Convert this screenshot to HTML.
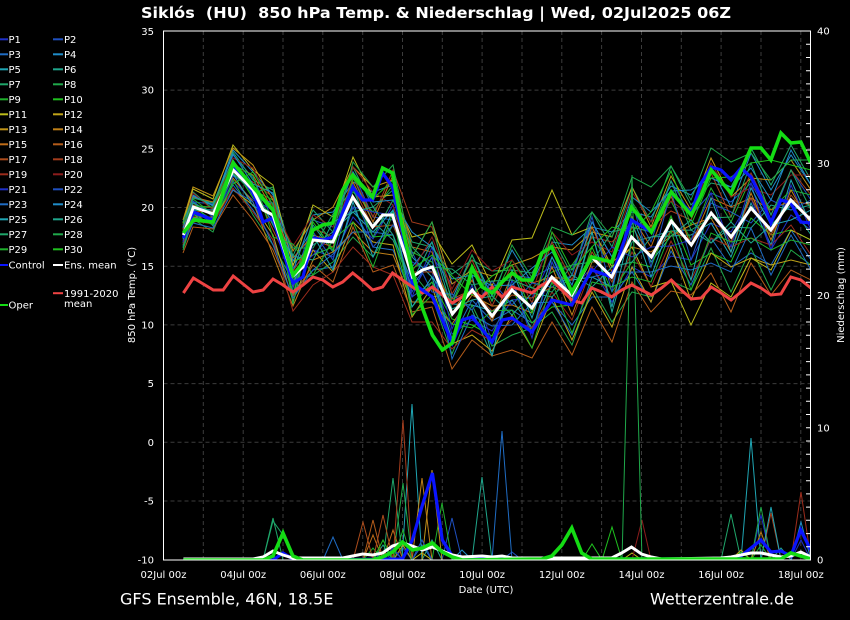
<!DOCTYPE html>
<html>
<head>
<meta charset="utf-8">
<style>
html,body{margin:0;padding:0;background:#000;}
body{width:850px;height:620px;overflow:hidden;}
svg{display:block;font-family:"DejaVu Sans","Liberation Sans",sans-serif;}
text{fill:#fff;}
</style>
</head>
<body>
<svg width="850" height="620" viewBox="0 0 850 620" xmlns="http://www.w3.org/2000/svg">
<rect x="0" y="0" width="850" height="620" fill="#000"/>
<defs>
<clipPath id="pc"><rect x="163.5" y="31" width="647" height="529"/></clipPath>
</defs>

<text x="141" y="18" font-size="15" font-weight="bold" textLength="590" lengthAdjust="spacingAndGlyphs" style="white-space:pre">Siklós  (HU)  850 hPa Temp. &amp; Niederschlag | Wed, 02Jul2025 06Z</text>

<g stroke="#3c3c3c" stroke-width="1" stroke-dasharray="4,3" fill="none">
<line x1="163.5" y1="90.1" x2="810.5" y2="90.1"/>
<line x1="163.5" y1="148.8" x2="810.5" y2="148.8"/>
<line x1="163.5" y1="207.5" x2="810.5" y2="207.5"/>
<line x1="163.5" y1="266.2" x2="810.5" y2="266.2"/>
<line x1="163.5" y1="324.9" x2="810.5" y2="324.9"/>
<line x1="163.5" y1="383.6" x2="810.5" y2="383.6"/>
<line x1="163.5" y1="442.3" x2="810.5" y2="442.3"/>
<line x1="163.5" y1="501" x2="810.5" y2="501"/>
<line x1="203.3" y1="31" x2="203.3" y2="560"/>
<line x1="243.2" y1="31" x2="243.2" y2="560"/>
<line x1="283.0" y1="31" x2="283.0" y2="560"/>
<line x1="322.8" y1="31" x2="322.8" y2="560"/>
<line x1="362.7" y1="31" x2="362.7" y2="560"/>
<line x1="402.5" y1="31" x2="402.5" y2="560"/>
<line x1="442.3" y1="31" x2="442.3" y2="560"/>
<line x1="482.1" y1="31" x2="482.1" y2="560"/>
<line x1="522.0" y1="31" x2="522.0" y2="560"/>
<line x1="561.8" y1="31" x2="561.8" y2="560"/>
<line x1="601.6" y1="31" x2="601.6" y2="560"/>
<line x1="641.5" y1="31" x2="641.5" y2="560"/>
<line x1="681.3" y1="31" x2="681.3" y2="560"/>
<line x1="721.1" y1="31" x2="721.1" y2="560"/>
<line x1="761.0" y1="31" x2="761.0" y2="560"/>
<line x1="800.8" y1="31" x2="800.8" y2="560"/>
</g>

<g clip-path="url(#pc)" fill="none" stroke-width="1" stroke-linejoin="miter">
<!-- members temperature -->
<polyline stroke="#1f30c8" points="183,240 193,215 213,218 233,182 253,200 273,210 293,268 313,250 333,257 353,217 373,239 393,205 412,262 432,272 452,334 472,320 492,331 512,300 532,298 552,257 572,290 592,267 612,302 632,267 651,277 671,256 691,260 711,223 731,232 751,198 771,250 791,215 811,230"/>
<polyline stroke="#1f50c0" points="183,227 193,202 213,204 233,155 253,178 273,220 293,286 313,220 333,227 353,172 373,217 393,220 412,292 432,257 452,284 472,270 492,291 512,275 532,278 552,267 572,270 592,222 612,257 632,207 651,242 671,181 691,215 711,193 731,202 751,183 771,220 791,170 811,200"/>
<polyline stroke="#1f6cc4" points="183,247 193,217 213,222 233,185 253,210 273,240 293,291 313,270 333,267 353,207 373,247 393,250 412,297 432,282 452,339 472,300 492,321 512,310 532,323 552,302 572,325 592,297 612,297 632,272 651,302 671,251 691,285 711,238 731,267 751,253 771,265 791,230 811,260"/>
<polyline stroke="#1f8cc8" points="183,232 193,195 213,206 233,150 253,172 273,195 293,271 313,215 333,212 353,182 373,192 393,185 412,267 432,242 452,299 472,255 492,296 512,250 532,283 552,242 572,245 592,227 612,232 632,212 651,217 671,186 691,195 711,168 731,207 751,153 771,190 791,155 811,185"/>
<polyline stroke="#1fa6b4" points="183,235 193,210 213,212 233,175 253,185 273,225 293,264 313,245 333,232 353,212 373,232 393,210 412,257 432,277 452,304 472,305 492,311 512,300 532,328 552,282 572,280 592,277 612,287 632,217 651,262 671,236 691,235 711,223 731,257 751,203 771,245 791,180 811,225"/>
<polyline stroke="#1fa68c" points="183,243 193,201 213,226 233,162 253,195 273,205 293,296 313,225 333,252 353,177 373,222 393,240 412,287 432,297 452,294 472,310 492,356 512,280 532,333 552,262 572,305 592,232 612,312 632,242 651,237 671,231 691,230 711,243 731,227 751,228 771,205 791,210 811,205"/>
<polyline stroke="#1fa66a" points="183,225 193,192 213,209 233,152 253,180 273,190 293,256 313,210 333,232 353,167 373,207 393,190 412,242 432,247 452,274 472,260 492,271 512,270 532,273 552,237 572,275 592,212 612,247 632,187 651,222 671,166 691,205 711,183 731,187 751,148 771,185 791,145 811,180"/>
<polyline stroke="#1fa84a" points="183,250 193,219 213,232 233,180 253,215 273,245 293,281 313,275 333,262 353,237 373,257 393,225 412,272 432,297 452,354 472,305 492,346 512,335 532,328 552,312 572,345 592,287 612,322 632,292 651,297 671,281 691,290 711,248 731,292 751,248 771,290 791,250 811,265"/>
<polyline stroke="#1fb02c" points="183,230 193,199 213,214 233,160 253,190 273,200 293,281 313,230 333,222 353,192 373,212 393,185 412,252 432,262 452,304 472,265 492,301 512,260 532,288 552,272 572,265 592,237 612,267 632,202 651,232 671,201 691,240 711,188 731,222 751,178 771,210 791,190 811,195"/>
<polyline stroke="#1fc01f" points="183,238 193,207 213,220 233,167 253,198 273,215 293,261 313,255 333,247 353,197 373,237 393,235 412,307 432,282 452,319 472,325 492,336 512,290 532,323 552,307 572,305 592,247 612,292 632,262 651,267 671,216 691,265 711,253 731,262 751,218 771,235 791,230 811,240"/>
<polyline stroke="#bcbc1a" points="183,223 193,189 213,199 233,145 253,170 273,185 293,266 313,205 333,217 353,157 373,197 393,195 412,237 432,232 452,264 472,245 492,286 512,240 532,238 552,190 572,235 592,227 612,267 632,247 651,287 671,281 691,325 711,283 731,297 751,258 771,270 791,230 811,240"/>
<polyline stroke="#c0a418" points="183,245 193,222 213,219 233,190 253,205 273,235 293,301 313,250 333,272 353,222 373,242 393,245 412,317 432,287 452,344 472,335 492,351 512,315 532,348 552,297 572,340 592,292 612,327 632,267 651,302 671,246 691,300 711,253 731,267 751,258 771,265 791,260 811,265"/>
<polyline stroke="#c09418" points="183,220 193,187 213,196 233,148 253,165 273,200 293,251 313,220 333,207 353,167 373,187 393,180 412,257 432,222 452,284 472,270 492,276 512,265 532,258 552,247 572,250 592,232 612,237 632,187 651,227 671,176 691,210 711,158 731,197 751,178 771,180 791,160 811,190"/>
<polyline stroke="#c08018" points="183,241 193,217 213,217 233,178 253,202 273,255 293,306 313,260 333,252 353,232 373,252 393,255 412,302 432,302 452,324 472,295 492,306 512,305 532,313 552,267 572,315 592,262 612,262 632,247 651,252 671,236 691,225 711,218 731,252 751,193 771,240 791,190 811,225"/>
<polyline stroke="#c06c18" points="183,229 193,197 213,202 233,165 253,175 273,210 293,258 313,235 333,242 353,182 373,222 393,175 412,247 432,252 452,314 472,280 492,321 512,275 532,283 552,277 572,280 592,227 612,272 632,217 651,247 671,196 691,245 711,198 731,207 751,198 771,210 791,200 811,205"/>
<polyline stroke="#b45c1a" points="183,253 193,227 213,229 233,195 253,220 273,250 293,296 313,265 333,282 353,227 373,272 393,265 412,312 432,307 452,369 472,340 492,356 512,350 532,358 552,322 572,355 592,307 612,342 632,282 651,312 671,291 691,295 711,273 731,312 751,263 771,295 791,270 811,280"/>
<polyline stroke="#ac4c1c" points="183,237 193,212 213,211 233,170 253,185 273,230 293,271 313,240 333,247 353,187 373,227 393,225 412,272 432,272 452,299 472,290 492,311 512,295 532,298 552,287 572,295 592,252 612,282 632,227 651,257 671,231 691,240 711,213 731,242 751,198 771,235 791,195 811,220"/>
<polyline stroke="#a43c1c" points="183,231 193,205 213,208 233,172 253,182 273,197 293,286 313,228 333,237 353,177 373,217 393,170 412,222 432,227 452,294 472,260 492,306 512,265 532,303 552,242 572,280 592,237 612,242 632,222 651,227 671,211 691,220 711,173 731,217 751,173 771,215 791,170 811,195"/>
<polyline stroke="#9c2c1c" points="183,244 193,221 213,224 233,188 253,212 273,240 293,311 313,285 333,272 353,247 373,267 393,275 412,322 432,322 452,349 472,330 492,341 512,320 532,328 552,292 572,320 592,267 612,297 632,252 651,287 671,241 691,280 711,238 731,247 751,238 771,245 791,225 811,255"/>
<polyline stroke="#8c1c1c" points="183,226 193,193 213,210 233,158 253,168 273,207 293,246 313,215 333,227 353,167 373,192 393,205 412,272 432,237 452,289 472,250 492,271 512,260 532,293 552,232 572,255 592,242 612,252 632,192 651,222 671,201 691,215 711,163 731,197 751,188 771,195 791,175 811,175"/>
<polyline stroke="#1f30c8" points="183,242 193,211 213,223 233,176 253,188 273,223 293,274 313,255 333,234 353,207 373,212 393,215 412,297 432,247 452,329 472,285 492,341 512,280 532,338 552,262 572,300 592,272 612,247 632,257 651,247 671,246 691,240 711,193 731,247 751,183 771,250 791,185 811,230"/>
<polyline stroke="#1f50c0" points="183,233 193,201 213,217 233,164 253,196 273,203 293,288 313,232 333,260 353,185 373,247 393,225 412,252 432,292 452,294 472,310 492,281 512,305 532,283 552,287 572,275 592,217 612,292 632,202 651,267 671,191 691,260 711,203 731,212 751,223 771,200 791,210 811,200"/>
<polyline stroke="#1f6cc4" points="183,246 193,223 213,228 233,190 253,202 273,245 293,298 313,270 333,254 353,232 373,232 393,235 412,287 432,257 452,359 472,315 492,326 512,325 532,303 552,302 572,335 592,277 612,272 632,272 651,272 671,266 691,270 711,263 731,272 751,228 771,275 791,235 811,270"/>
<polyline stroke="#1f8cc8" points="183,228 193,196 213,205 233,154 253,184 273,193 293,261 313,228 333,222 353,172 373,202 393,200 412,232 432,247 452,279 472,275 492,286 512,285 532,268 552,252 572,285 592,222 612,257 632,197 651,212 671,191 691,190 711,178 731,187 751,168 771,200 791,150 811,185"/>
<polyline stroke="#1fa6b4" points="183,239 193,209 213,210 233,174 253,206 273,215 293,284 313,235 333,270 353,202 373,257 393,210 412,307 432,277 452,339 472,275 492,356 512,270 532,318 552,257 572,300 592,232 612,307 632,222 651,277 671,221 691,280 711,198 731,252 751,188 771,225 791,220 811,210"/>
<polyline stroke="#1fa68c" points="183,234 193,203 213,213 233,168 253,186 273,225 293,256 313,260 333,222 353,212 373,207 393,235 412,282 432,242 452,309 472,300 492,296 512,315 532,293 552,297 572,275 592,287 612,267 632,262 651,237 671,236 691,220 711,243 731,222 751,243 771,225 791,205 811,235"/>
<polyline stroke="#1fa66a" points="183,222 193,198 213,203 233,160 253,190 273,212 293,248 313,248 333,214 353,189 373,237 393,200 412,247 432,267 452,269 472,285 492,281 512,280 532,288 552,292 572,265 592,262 612,232 632,227 651,232 671,181 691,230 711,218 731,217 751,163 771,215 791,170 811,210"/>
<polyline stroke="#1fa84a" points="183,248 193,214 213,225 233,173 253,193 273,187 293,304 313,218 333,242 353,162 373,187 393,165 412,257 432,222 452,304 472,255 492,301 512,245 532,278 552,227 572,235 592,212 612,237 632,177 651,187 671,166 691,200 711,148 731,162 751,153 771,180 791,160 811,160"/>
<polyline stroke="#1fb02c" points="183,224 193,206 213,207 233,164 253,176 273,237 293,244 313,275 333,240 353,222 373,267 393,213 412,315 432,295 452,324 472,328 492,311 512,310 532,348 552,282 572,333 592,282 612,287 632,277 651,282 671,231 691,290 711,233 731,242 751,238 771,250 791,240 811,245"/>
<polyline stroke="#1fc01f" points="183,236 193,218 213,221 233,184 253,172 273,205 293,294 313,222 333,250 353,179 373,199 393,180 412,269 432,255 452,276 472,295 492,276 512,265 532,313 552,232 572,270 592,247 612,227 632,232 651,212 671,171 691,225 711,178 731,177 751,163 771,160 791,165 811,170"/>

<!-- members precipitation -->
<polyline stroke="#1f30c8" points="183,560 373,560 383,552 393,560 403,548 412,560 751,560 761,515 771,560 811,560"/>
<polyline stroke="#1f50c0" points="183,560 383,560 393,550 403,560 442,560 452,518 462,560 811,560"/>
<polyline stroke="#1f6cc4" points="183,560 323,560 333,537 343,560 412,560 422,545 432,560 811,560"/>
<polyline stroke="#1f8cc8" points="183,560 273,560 283,532 293,560 452,560 462,550 472,560 811,560"/>
<polyline stroke="#1fa6b4" points="183,560 402,560 412,404 422,560 741,560 751,438 761,560 811,560"/>
<polyline stroke="#1fa68c" points="183,560 373,560 383,545 393,560 422,560 432,540 442,560 771,560 781,548 791,560 811,560"/>
<polyline stroke="#1fa66a" points="183,560 263,560 273,518 283,560 383,560 393,478 403,560 721,560 731,514 741,560 811,560"/>
<polyline stroke="#1fa84a" points="183,560 393,560 403,483 412,560 751,560 761,507 771,560 811,560"/>
<polyline stroke="#1fb02c" points="183,560 363,560 373,548 383,560 432,560 442,503 452,560 811,560"/>
<polyline stroke="#1fc01f" points="183,560 582,560 592,544 602,560 612,527 622,560 811,560"/>
<polyline stroke="#bcbc1a" points="183,560 412,560 422,553 432,560 622,560 632,553 642,560 811,560"/>
<polyline stroke="#c0a418" points="183,560 393,560 403,545 412,560 731,560 741,550 751,560 811,560"/>
<polyline stroke="#c09418" points="183,560 422,560 432,470 442,560 811,560"/>
<polyline stroke="#c08018" points="183,560 412,560 422,478 432,560 751,560 761,532 771,560 811,560"/>
<polyline stroke="#c06c18" points="183,560 363,560 373,535 383,560 393,530 403,560 811,560"/>
<polyline stroke="#b45c1a" points="183,560 363,560 373,520 383,560 811,560"/>
<polyline stroke="#ac4c1c" points="183,560 353,560 363,522 373,560 383,515 393,560 811,560"/>
<polyline stroke="#a43c1c" points="183,560 393,560 403,420 412,560 761,560 771,513 781,560 811,560"/>
<polyline stroke="#9c2c1c" points="183,560 791,560 801,492 811,560"/>
<polyline stroke="#8c1c1c" points="183,560 632,560 642,520 651,560 811,560"/>
<polyline stroke="#1f30c8" points="183,560 383,560 393,548 403,560 791,560 801,540 811,560"/>
<polyline stroke="#1f50c0" points="183,560 412,560 422,540 432,560 502,560 512,552 522,560 811,560"/>
<polyline stroke="#1f6cc4" points="183,560 492,560 502,431 512,560 811,560"/>
<polyline stroke="#1f8cc8" points="183,560 791,560 801,522 811,560"/>
<polyline stroke="#1fa6b4" points="183,560 761,560 771,507 781,560 811,560"/>
<polyline stroke="#1fa68c" points="183,560 472,560 482,477 492,560 811,560"/>
<polyline stroke="#1fa66a" points="183,560 263,560 273,521 283,535 293,560 811,560"/>
<polyline stroke="#1fa84a" points="183,560 622,560 632,175 642,560 811,560"/>
<polyline stroke="#1fb02c" points="183,560 393,560 403,530 412,560 751,560 761,545 771,560 811,560"/>
<polyline stroke="#1fc01f" points="183,560 373,560 383,540 393,560 731,560 741,552 751,560 811,560"/>

<!-- climatology -->
<polyline stroke="#ee4343" stroke-width="3" points="183.4,293 193.4,278 203.3,284 213.3,290 223.2,290 233.2,276 243.1,284 253.1,292 263.1,290 273.0,279 283.0,285 292.9,292 302.9,285 312.9,277 322.8,280 332.8,287 342.7,282 352.7,273 362.6,281 372.6,290 382.6,287 392.5,273 402.5,280 412.4,287 422.4,293 432.4,287 442.3,295 452.3,303 462.2,297 472.2,292 482.1,297 492.1,287 502.1,297 512.0,287 522.0,290 531.9,293 541.9,285 551.8,280 561.8,290 571.8,300 581.7,303 591.7,288 601.6,292 611.6,297 621.6,290 631.5,285 641.5,290 651.4,295 661.4,288 671.3,280 681.3,290 691.3,299 701.2,298 711.2,287 721.1,293 731.1,300 741.0,292 751.0,283 761.0,288 770.9,295 780.9,294 790.8,277 800.8,280 810.8,288"/>
<!-- control -->
<polyline stroke="#0a14ff" stroke-width="3.2" points="183.4,238 193.4,212 213.3,220 233.2,167 253.1,192 263.1,222 273.0,218 292.9,283 302.9,277 312.9,238 322.8,240 332.8,237 352.7,187 362.6,200 372.6,200 382.6,173 392.5,187 402.5,233 412.4,283 432.4,297 452.3,343 462.2,320 472.2,317 492.1,342 502.1,320 512.0,318 531.9,332 551.8,300 571.8,305 591.7,270 611.6,277 631.5,220 651.4,232 671.3,192 691.3,213 701.2,183 711.2,167 721.1,170 731.1,180 741.0,168 751.0,177 761.0,197 770.9,223 780.9,200 790.8,203 800.8,222 810.8,223"/>
<polyline stroke="#0a14ff" stroke-width="3.2" points="183.4,560 273.0,560 283.0,553 292.9,559 302.9,560 402.5,559 412.4,540 422.4,505 432.4,473 442.3,540 452.3,556 462.2,559 731.1,559 741.0,556 751.0,548 761.0,540 770.9,552 780.9,551 790.8,556 800.8,530 810.8,550"/>
<!-- ens mean -->
<polyline stroke="#ffffff" stroke-width="3" points="183.4,235 193.4,207 213.3,214 233.2,170 253.1,190 263.1,210 273.0,215 292.9,276 302.9,267 312.9,240 332.8,242 352.7,197 372.6,227 382.6,215 392.5,215 412.4,277 422.4,270 432.4,267 452.3,314 472.2,290 492.1,316 512.0,290 531.9,308 551.8,277 571.8,295 591.7,257 611.6,277 631.5,237 651.4,257 671.3,221 691.3,245 711.2,213 731.1,237 751.0,208 770.9,230 790.8,200 810.8,220"/>
<polyline stroke="#ffffff" stroke-width="3" points="183.4,559 253.1,559 263.1,557 273.0,551 283.0,555 292.9,558 342.7,558 352.7,556 362.6,554 372.6,555 382.6,553 392.5,546 402.5,543 412.4,546 422.4,550 432.4,547 442.3,551 452.3,555 462.2,557 482.1,556 492.1,557 502.1,556 512.0,558 611.6,558 621.6,553 631.5,547 641.5,554 651.4,557 661.4,559 721.1,558 731.1,557 741.0,555 751.0,553 761.0,553 770.9,555 780.9,557 790.8,556 800.8,552 810.8,557"/>
<!-- oper -->
<polyline stroke="#14dc14" stroke-width="3.6" points="183.4,233 193.4,220 213.3,222 233.2,163 253.1,187 273.0,210 292.9,275 302.9,263 312.9,230 322.8,225 332.8,223 342.7,190 352.7,175 372.6,197 382.6,168 392.5,173 402.5,228 412.4,272 422.4,308 432.4,335 442.3,350 452.3,343 472.2,268 482.1,287 492.1,293 502.1,282 512.0,273 522.0,280 531.9,280 541.9,253 551.8,247 571.8,292 591.7,257 611.6,262 631.5,207 651.4,232 671.3,192 691.3,215 701.2,195 711.2,170 731.1,193 751.0,148 761.0,148 770.9,160 780.9,133 790.8,143 800.8,142 810.8,163"/>
<polyline stroke="#14dc14" stroke-width="3.6" points="183.4,560 263.1,560 273.0,556 283.0,533 292.9,556 302.9,560 372.6,560 382.6,557 392.5,552 402.5,542 412.4,550 422.4,548 432.4,543 442.3,552 452.3,557 462.2,560 541.9,559 551.8,556 561.8,545 571.8,528 581.7,553 591.7,559 780.9,559 790.8,553 800.8,556 810.8,559"/>
</g>

<rect x="163.5" y="31" width="647" height="529" fill="none" stroke="#fff" stroke-width="1"/>

<path stroke="#fff" stroke-width="1" fill="none" d="M806 546.8H810.5M806 533.6H810.5M806 520.3H810.5M806 507.1H810.5M806 493.9H810.5M806 480.7H810.5M806 467.4H810.5M806 454.2H810.5M806 441.0H810.5M806 427.8H810.5M806 414.5H810.5M806 401.3H810.5M806 388.1H810.5M806 374.9H810.5M806 361.6H810.5M806 348.4H810.5M806 335.2H810.5M806 322.0H810.5M806 308.7H810.5M806 295.5H810.5M806 282.3H810.5M806 269.1H810.5M806 255.8H810.5M806 242.6H810.5M806 229.4H810.5M806 216.2H810.5M806 202.9H810.5M806 189.7H810.5M806 176.5H810.5M806 163.3H810.5M806 150.0H810.5M806 136.8H810.5M806 123.6H810.5M806 110.4H810.5M806 97.1H810.5M806 83.9H810.5M806 70.7H810.5M806 57.5H810.5M806 44.2H810.5"/>

<g font-size="10" text-anchor="end">
<text x="154" y="35">35</text>
<text x="154" y="93.7">30</text>
<text x="154" y="152.4">25</text>
<text x="154" y="211.1">20</text>
<text x="154" y="269.8">15</text>
<text x="154" y="328.5">10</text>
<text x="154" y="387.2">5</text>
<text x="154" y="445.9">0</text>
<text x="154" y="504.6">-5</text>
<text x="154" y="563.3">-10</text>
</g>
<g font-size="10" text-anchor="start">
<text x="817" y="34.6">40</text>
<text x="817" y="166.9">30</text>
<text x="817" y="299.1">20</text>
<text x="817" y="431.4">10</text>
<text x="817" y="563.6">0</text>
</g>
<g font-size="10" text-anchor="middle">
<text x="163.5" y="578">02Jul 00z</text>
<text x="243.2" y="578">04Jul 00z</text>
<text x="322.8" y="578">06Jul 00z</text>
<text x="402.5" y="578">08Jul 00z</text>
<text x="482.1" y="578">10Jul 00z</text>
<text x="561.8" y="578">12Jul 00z</text>
<text x="641.5" y="578">14Jul 00z</text>
<text x="721.1" y="578">16Jul 00z</text>
<text x="800.8" y="578">18Jul 00z</text>
</g>
<text x="486" y="593" font-size="10" text-anchor="middle">Date (UTC)</text>
<text font-size="10" text-anchor="middle" transform="translate(135,295) rotate(-90)">850 hPa Temp. (°C)</text>
<text font-size="10" text-anchor="middle" transform="translate(844,295) rotate(-90)">Niederschlag (mm)</text>

<text x="120" y="604.5" font-size="16">GFS Ensemble, 46N, 18.5E</text>
<text x="650" y="604.5" font-size="16" textLength="144" lengthAdjust="spacingAndGlyphs">Wetterzentrale.de</text>

<!-- legend lines -->
<g stroke-width="2">
<line x1="0" y1="39.3" x2="8" y2="39.3" stroke="#1f30c8"/><line x1="53" y1="39.3" x2="63" y2="39.3" stroke="#1f50c0"/>
<line x1="0" y1="54.3" x2="8" y2="54.3" stroke="#1f6cc4"/><line x1="53" y1="54.3" x2="63" y2="54.3" stroke="#1f8cc8"/>
<line x1="0" y1="69.3" x2="8" y2="69.3" stroke="#1fa6b4"/><line x1="53" y1="69.3" x2="63" y2="69.3" stroke="#1fa68c"/>
<line x1="0" y1="84.3" x2="8" y2="84.3" stroke="#1fa66a"/><line x1="53" y1="84.3" x2="63" y2="84.3" stroke="#1fa84a"/>
<line x1="0" y1="99.3" x2="8" y2="99.3" stroke="#1fb02c"/><line x1="53" y1="99.3" x2="63" y2="99.3" stroke="#1fc01f"/>
<line x1="0" y1="114.3" x2="8" y2="114.3" stroke="#bcbc1a"/><line x1="53" y1="114.3" x2="63" y2="114.3" stroke="#c0a418"/>
<line x1="0" y1="129.3" x2="8" y2="129.3" stroke="#c09418"/><line x1="53" y1="129.3" x2="63" y2="129.3" stroke="#c08018"/>
<line x1="0" y1="144.3" x2="8" y2="144.3" stroke="#c06c18"/><line x1="53" y1="144.3" x2="63" y2="144.3" stroke="#b45c1a"/>
<line x1="0" y1="159.3" x2="8" y2="159.3" stroke="#ac4c1c"/><line x1="53" y1="159.3" x2="63" y2="159.3" stroke="#a43c1c"/>
<line x1="0" y1="174.3" x2="8" y2="174.3" stroke="#9c2c1c"/><line x1="53" y1="174.3" x2="63" y2="174.3" stroke="#8c1c1c"/>
<line x1="0" y1="189.3" x2="8" y2="189.3" stroke="#1f30c8"/><line x1="53" y1="189.3" x2="63" y2="189.3" stroke="#1f50c0"/>
<line x1="0" y1="204.3" x2="8" y2="204.3" stroke="#1f6cc4"/><line x1="53" y1="204.3" x2="63" y2="204.3" stroke="#1f8cc8"/>
<line x1="0" y1="219.3" x2="8" y2="219.3" stroke="#1fa6b4"/><line x1="53" y1="219.3" x2="63" y2="219.3" stroke="#1fa68c"/>
<line x1="0" y1="234.3" x2="8" y2="234.3" stroke="#1fa66a"/><line x1="53" y1="234.3" x2="63" y2="234.3" stroke="#1fa84a"/>
<line x1="0" y1="249.3" x2="8" y2="249.3" stroke="#1fb02c"/><line x1="53" y1="249.3" x2="63" y2="249.3" stroke="#1fc01f"/>
<line x1="0" y1="265" x2="8" y2="265" stroke="#0a14ff"/>
<line x1="53" y1="265" x2="63" y2="265" stroke="#ffffff"/>
<line x1="53" y1="293.2" x2="63" y2="293.2" stroke="#ee4343"/>
<line x1="0" y1="305" x2="8" y2="305" stroke="#14dc14"/>
</g>
<g font-size="10">
<text x="8.5" y="43">P1</text><text x="64" y="43">P2</text>
<text x="8.5" y="58">P3</text><text x="64" y="58">P4</text>
<text x="8.5" y="73">P5</text><text x="64" y="73">P6</text>
<text x="8.5" y="88">P7</text><text x="64" y="88">P8</text>
<text x="8.5" y="103">P9</text><text x="64" y="103">P10</text>
<text x="8.5" y="118">P11</text><text x="64" y="118">P12</text>
<text x="8.5" y="133">P13</text><text x="64" y="133">P14</text>
<text x="8.5" y="148">P15</text><text x="64" y="148">P16</text>
<text x="8.5" y="163">P17</text><text x="64" y="163">P18</text>
<text x="8.5" y="178">P19</text><text x="64" y="178">P20</text>
<text x="8.5" y="193">P21</text><text x="64" y="193">P22</text>
<text x="8.5" y="208">P23</text><text x="64" y="208">P24</text>
<text x="8.5" y="223">P25</text><text x="64" y="223">P26</text>
<text x="8.5" y="238">P27</text><text x="64" y="238">P28</text>
<text x="8.5" y="253">P29</text><text x="64" y="253">P30</text>
<text x="8.5" y="268.6">Control</text><text x="64" y="268.6">Ens. mean</text>
<text x="64" y="296.8">1991-2020</text>
<text x="64" y="306.8">mean</text>
<text x="8.5" y="308.6">Oper</text>
</g>
</svg>
</body>
</html>
